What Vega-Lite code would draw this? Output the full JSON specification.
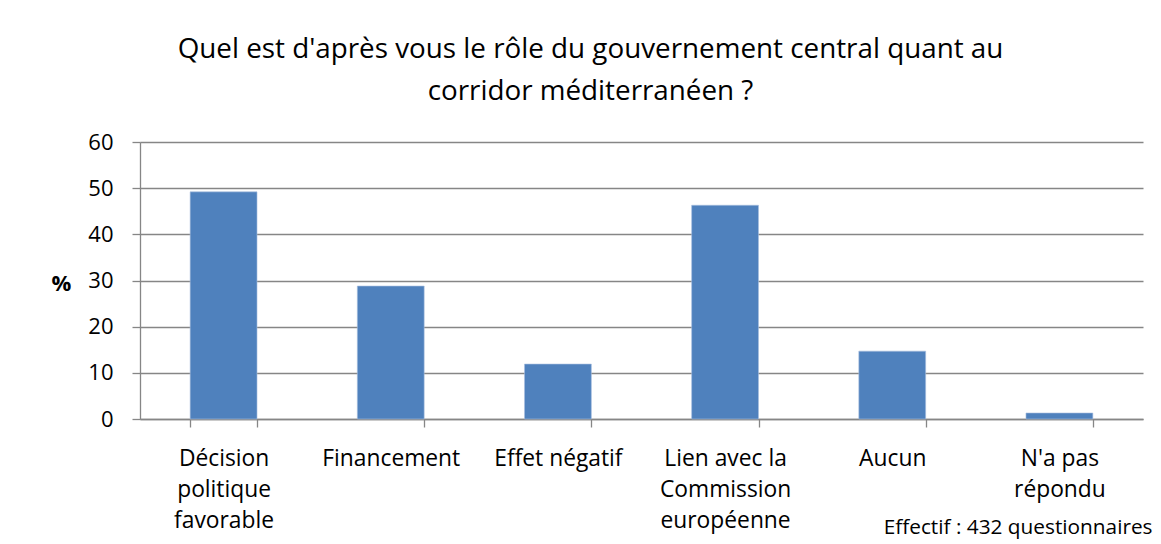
{
  "$schema": "https://vega.github.io/schema/vega-lite/v6.json",
  "autosize": {"type": "none"},
  "width": 1003,
  "height": 277,
  "padding": {"left": 140, "top": 142, "right": 18, "bottom": 125},
  "background": "white",
  "title": {
    "text": ["Quel est d'après vous le rôle du gouvernement central quant au", "corridor méditerranéen ?"],
    "anchor": "middle",
    "frame": "group",
    "dx": -51,
    "offset": 3,
    "baseline": "alphabetic",
    "lineHeight": 42,
    "font": "Open Sans",
    "fontSize": 27.8,
    "fontWeight": "normal",
    "color": "#000000"
  },
  "data": {
    "values": [
      {"reponse": "Décision politique favorable", "pct": 49.2},
      {"reponse": "Financement", "pct": 28.8},
      {"reponse": "Effet négatif", "pct": 11.9},
      {"reponse": "Lien avec la Commission européenne", "pct": 46.3},
      {"reponse": "Aucun", "pct": 14.7},
      {"reponse": "N'a pas répondu", "pct": 1.3}
    ]
  },
  "mark": {"type": "bar", "color": "#4F81BD", "stroke": "#A9C0DF", "strokeWidth": 0.6},
  "encoding": {
    "x": {
      "field": "reponse",
      "type": "nominal",
      "sort": null,
      "scale": {"paddingInner": 0.6, "paddingOuter": 0.3},
      "axis": {
        "title": "Effectif : 432 questionnaires",
        "titleFont": "Open Sans",
        "titleFontSize": 20.8,
        "titleFontWeight": "normal",
        "titleColor": "#000000",
        "titleAnchor": "end",
        "titleAlign": "right",
        "titleBaseline": "alphabetic",
        "titleX": 1012,
        "titleY": 114,
        "labelAngle": 0,
        "labelFont": "Open Sans",
        "labelFontSize": 22.8,
        "labelColor": "#000000",
        "labelLineHeight": 31,
        "labelBaseline": "alphabetic",
        "labelPadding": 38,
        "labelLimit": 300,
        "labelExpr": "datum.value == 'Décision politique favorable' ? ['Décision', 'politique', 'favorable'] : datum.value == 'Lien avec la Commission européenne' ? ['Lien avec la', 'Commission', 'européenne'] : datum.value == \"N'a pas répondu\" ? [\"N'a pas\", 'répondu'] : datum.value",
        "tickBand": "extent",
        "tickSize": 8,
        "tickColor": "#868686",
        "tickWidth": 1.3,
        "domainColor": "#868686",
        "domainWidth": 1.3
      }
    },
    "y": {
      "field": "pct",
      "type": "quantitative",
      "scale": {"domain": [0, 60]},
      "axis": {
        "values": [0, 10, 20, 30, 40, 50, 60],
        "title": "%",
        "titleAngle": 0,
        "titleFont": "Open Sans",
        "titleFontSize": 22,
        "titleFontWeight": "bold",
        "titleColor": "#000000",
        "titleAlign": "center",
        "titleBaseline": "middle",
        "titleX": -79,
        "titleY": 141,
        "labelFont": "Open Sans",
        "labelFontSize": 22,
        "labelColor": "#000000",
        "labelPadding": 19,
        "tickSize": 8,
        "tickColor": "#868686",
        "tickWidth": 1.3,
        "domainColor": "#868686",
        "domainWidth": 1.3,
        "grid": true,
        "gridColor": "#868686",
        "gridWidth": 1.3
      }
    }
  },
  "config": {
    "view": {"stroke": null}
  }
}
